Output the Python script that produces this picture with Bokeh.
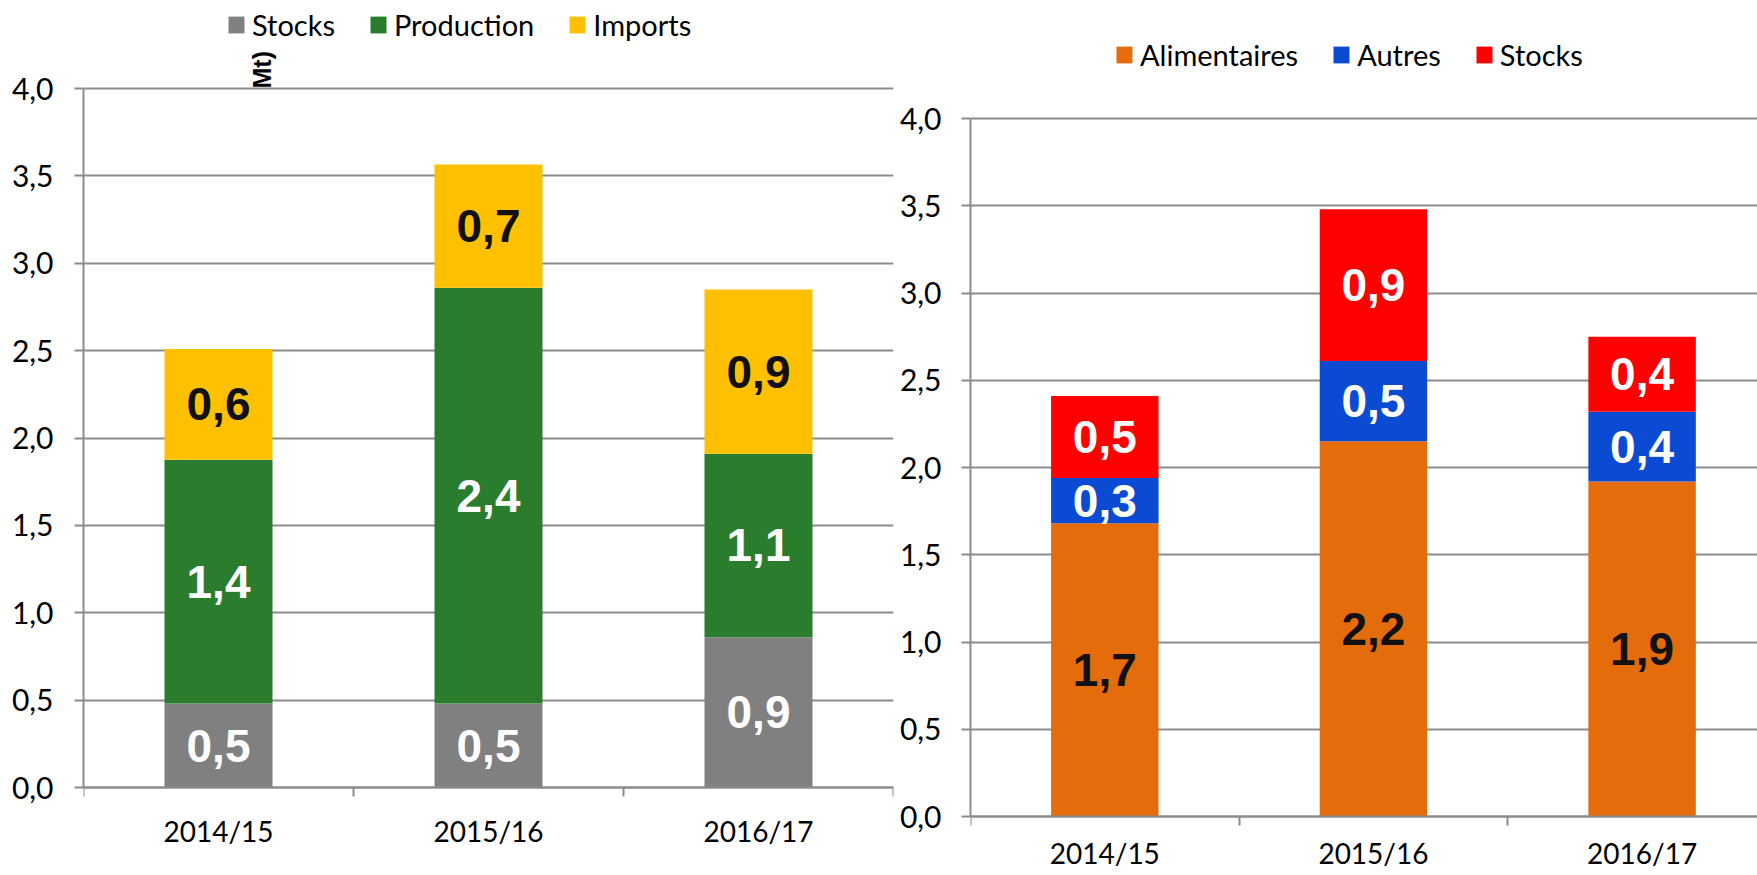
from decimal import Decimal, ROUND_HALF_UP
from math import pi

from bokeh.plotting import figure
from bokeh.models import (ColumnDataSource, FixedTicker, Legend, LegendItem,
                          Label, Range1d)
from bokeh.layouts import row
from bokeh.core.properties import value
from bokeh.embed import file_html
from bokeh.resources import INLINE

# ---------------- data ----------------
years = ["2014/15", "2015/16", "2016/17"]
y_ticks = [0.0, 0.5, 1.0, 1.5, 2.0, 2.5, 3.0, 3.5, 4.0]
y_tick_labels = ["0,0", "0,5", "1,0", "1,5", "2,0", "2,5", "3,0", "3,5", "4,0"]

left_series = ["Stocks", "Production", "Imports"]
left_stocks = [0.48, 0.48, 0.86]
left_production = [1.395, 2.38, 1.05]
left_imports = [0.635, 0.705, 0.94]
left_colors = ["#808080", "#2b7d2e", "#ffc000"]
left_label_colors = ["white", "white", "#111111"]

right_series = ["Alimentaires", "Autres", "Stocks"]
right_alimentaires = [1.68, 2.15, 1.92]
right_autres = [0.26, 0.46, 0.40]
right_stocks = [0.47, 0.87, 0.43]
right_colors = ["#e46c0a", "#0b4bd3", "#ff0000"]
right_label_colors = ["#111111", "white", "white"]

FONT = "Lato"
BOLD_FONT = "Liberation Sans"
GRID = "#8c8c8c"
HEIGHT = 875


def fmt(v):
    d = Decimal(str(v)).quantize(Decimal("0.1"), rounding=ROUND_HALF_UP)
    return str(d).replace(".", ",")


def make_chart(series_names, series_values, colors, label_colors,
               width, border_left, border_right, top_px, zero_px,
               x_end, x_label_standoff, y_label_standoff, legend_loc):
    # top_px / zero_px: pixel rows (inside the figure) of the 4,0 and 0,0 lines
    ppu = (zero_px - top_px) / 4.0
    y_end = 4.0 + top_px / ppu
    y_start = -(HEIGHT - zero_px) / ppu
    p = figure(width=width, height=HEIGHT,
               x_range=Range1d(0, x_end), y_range=Range1d(y_start, y_end),
               output_backend="svg", toolbar_location=None,
               min_border_left=border_left, min_border_right=border_right,
               min_border_top=0, min_border_bottom=0)
    p.outline_line_color = None
    p.background_fill_color = "white"
    p.border_fill_color = "white"

    # grid
    p.xgrid.grid_line_color = None
    p.ygrid.ticker = FixedTicker(ticks=y_ticks)
    p.ygrid.grid_line_color = GRID
    p.ygrid.grid_line_width = 2

    # y axis
    yax = p.yaxis[0]
    yax.ticker = FixedTicker(ticks=y_ticks)
    yax.bounds = (0, 4)
    yax.major_label_overrides = dict(zip(y_ticks, y_tick_labels))
    yax.axis_line_color = GRID
    yax.axis_line_width = 2
    yax.major_tick_line_color = GRID
    yax.major_tick_line_width = 2
    yax.major_tick_out = 9
    yax.major_tick_in = 0
    yax.minor_tick_line_color = None
    yax.major_label_text_font = FONT
    yax.major_label_text_font_size = "30px"
    yax.major_label_text_color = "black"
    yax.major_label_standoff = y_label_standoff

    # x axis (labels at centres, ticks at category boundaries)
    centers = [i + 0.5 for i in range(len(years))]
    bounds = [float(i) for i in range(len(years) + 1)]
    xax = p.xaxis[0]
    xax.fixed_location = 0
    xax.ticker = FixedTicker(ticks=centers, minor_ticks=bounds)
    xax.major_label_overrides = dict(zip(centers, years))
    xax.axis_line_color = GRID
    xax.axis_line_width = 2
    xax.major_tick_line_color = None
    xax.major_tick_out = 0
    xax.major_tick_in = 0
    xax.minor_tick_line_color = GRID
    xax.minor_tick_line_width = 2
    xax.minor_tick_out = 9
    xax.minor_tick_in = 0
    xax.major_label_text_font = FONT
    xax.major_label_text_font_size = "28px"
    xax.major_label_text_color = "black"
    xax.major_label_standoff = x_label_standoff

    data = {"x": centers}
    for name, vals in zip(series_names, series_values):
        data[name] = vals
    src = ColumnDataSource(data)
    renderers = p.vbar_stack(series_names, x="x", width=0.4, source=src,
                             color=colors, line_color=None)

    # value labels
    cum = [0.0] * len(years)
    for vals, col in zip(series_values, label_colors):
        mids = [c + v / 2 for c, v in zip(cum, vals)]
        cum = [c + v for c, v in zip(cum, vals)]
        p.text(x=centers, y=mids, text=[fmt(v) for v in vals],
               text_font=value(BOLD_FONT), text_font_style="bold",
               text_font_size="46px", text_align="center",
               text_baseline="middle", text_color=col)

    legend = Legend(items=[LegendItem(label=n, renderers=[r])
                           for n, r in zip(series_names, renderers)],
                    orientation="horizontal", location=legend_loc,
                    glyph_width=20, glyph_height=21, label_standoff=6,
                    spacing=33, padding=0, margin=0,
                    border_line_color=None, background_fill_alpha=0,
                    label_text_font=FONT, label_text_font_size="29px",
                    label_text_color="black")
    p.add_layout(legend)
    return p


left = make_chart(left_series, [left_stocks, left_production, left_imports],
                  left_colors, left_label_colors,
                  width=896, border_left=83, border_right=3,
                  top_px=88, zero_px=787, x_end=3.0,
                  x_label_standoff=17, y_label_standoff=21,
                  legend_loc=(143, 833))

left.add_layout(Label(x=178, y=787, x_units="screen", y_units="screen",
                      text="Mt)", angle=pi / 2, text_font=BOLD_FONT,
                      text_font_style="bold", text_font_size="25px",
                      text_baseline="alphabetic", text_align="left",
                      text_color="black"))

right = make_chart(right_series, [right_alimentaires, right_autres, right_stocks],
                   right_colors, right_label_colors,
                   width=861, border_left=70, border_right=0,
                   top_px=118, zero_px=816, x_end=(861 - 70) / 270,
                   x_label_standoff=10, y_label_standoff=20,
                   legend_loc=(144, 803))

layout = row(left, right)
open("out.html", "w").write(file_html(layout, INLINE))
